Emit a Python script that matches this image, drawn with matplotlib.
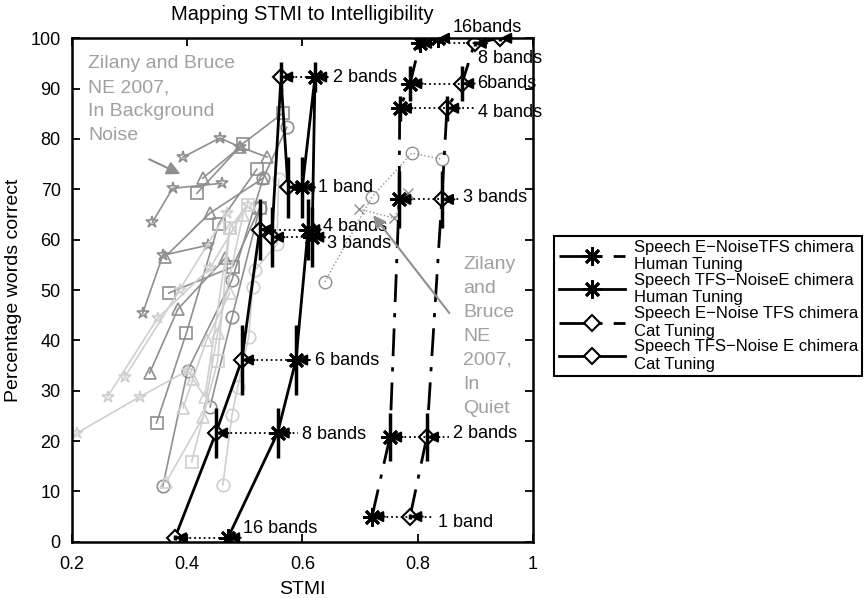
import matplotlib
matplotlib.use("Agg")
import matplotlib.pyplot as plt
import numpy as np

plt.rcParams["font.family"] = ["Liberation Sans", "DejaVu Sans"]

# band conditions, in the order the lines join them
bands = ["1 band", "2 bands", "3 bands", "4 bands", "6 bands", "8 bands", "16 bands"]

# Speech TFS - Noise E chimera (solid lines)
tfs_intel = [70.4, 92.3, 60.5, 62.0, 36.1, 21.6, 0.8]
tfs_human_stmi = [0.600, 0.622, 0.617, 0.610, 0.589, 0.557, 0.471]
tfs_cat_stmi = [0.575, 0.563, 0.547, 0.526, 0.495, 0.450, 0.379]
tfs_err = [6, 3, 6, 6, 7, 5, 0.5]
tfs_label_x = [0.627, 0.653, 0.643, 0.636, 0.622, 0.599, 0.497]
tfs_label_y = [70.4, 92.3, 59.2, 62.6, 36.1, 21.4, 2.6]

# Speech E - Noise TFS chimera (dash-dot lines)
env_intel = [5.0, 20.8, 68.0, 86.1, 91.0, 99.0, 100.0]
env_human_stmi = [0.721, 0.752, 0.768, 0.769, 0.787, 0.804, 0.835]
env_cat_stmi = [0.787, 0.816, 0.842, 0.851, 0.877, 0.899, 0.943]
env_err = [0.5, 4.7, 5.6, 2.5, 3.5, 0.5, 0.5]
env_labels = ["1 band", "2 bands", "3 bands", "4 bands", "6bands", "8 bands", "16bands"]
env_label_x = [0.835, 0.861, 0.879, 0.905, 0.903, 0.905, 0.861]
env_label_y = [3.8, 21.6, 68.3, 85.3, 91.1, 96.0, 102.2]

# Zilany and Bruce NE 2007, in background noise (dark grey)
bn_star1_x = [0.340, 0.375, 0.460]
bn_star1_y = [63.5, 70.2, 71.2]
bn_star2_x = [0.393, 0.457, 0.492]
bn_star2_y = [76.4, 80.2, 78.4]
bn_star3_x = [0.323, 0.358, 0.436]
bn_star3_y = [45.4, 56.9, 58.9]
bn_tri1_x = [0.427, 0.492, 0.539]
bn_tri1_y = [72.2, 78.4, 76.4]
bn_tri2_x = [0.361, 0.440, 0.532]
bn_tri2_y = [56.5, 65.3, 72.2]
bn_tri3_x = [0.335, 0.384, 0.466]
bn_tri3_y = [33.5, 46.2, 56.3]
bn_sq1_x = [0.417, 0.497, 0.566]
bn_sq1_y = [69.2, 79.1, 85.1]
bn_sq2_x = [0.347, 0.399, 0.455, 0.521]
bn_sq2_y = [23.6, 41.5, 63.2, 74.0]
bn_sq3_x = [0.368, 0.479, 0.526]
bn_sq3_y = [49.4, 54.6, 66.3]
bn_circ1_x = [0.358, 0.401, 0.478, 0.532, 0.573]
bn_circ1_y = [11.1, 34.0, 52.0, 72.2, 82.3]
bn_circ2_x = [0.440, 0.478, 0.526]
bn_circ2_y = [26.8, 44.6, 66.3]
bn_circ3_x = [0.639, 0.721, 0.790, 0.842]
bn_circ3_y = [51.6, 68.5, 77.2, 76.0]
bn_cross_x = [0.698, 0.759, 0.783]
bn_cross_y = [66.1, 64.3, 69.2]

# Zilany and Bruce NE 2007, in quiet (light grey)
q_star1_x = [0.209, 0.318, 0.401]
q_star1_y = [21.6, 28.8, 34.0]
q_star2_x = [0.262, 0.349, 0.440, 0.505]
q_star2_y = [28.8, 44.4, 54.4, 66.9]
q_star3_x = [0.292, 0.387, 0.469]
q_star3_y = [32.7, 50.0, 65.3]
q_tri1_x = [0.364, 0.428, 0.453, 0.497]
q_tri1_y = [11.9, 24.8, 41.5, 64.9]
q_tri2_x = [0.393, 0.434, 0.474]
q_tri2_y = [26.6, 40.1, 49.4]
q_tri3_x = [0.410, 0.431, 0.474]
q_tri3_y = [32.3, 28.8, 62.3]
q_sq_x = [0.408, 0.453, 0.474, 0.505]
q_sq_y = [15.9, 35.9, 62.3, 66.9]
q_circ_x = [0.462, 0.478, 0.488, 0.507, 0.514, 0.518, 0.556, 0.559]
q_circ_y = [11.3, 25.2, 30.8, 40.7, 50.6, 54.0, 59.1, 72.0]

dark = "#8f8f8f"
light = "#cfcfcf"
asterisk = (8, 2, 0)
dashdot = (0, (10, 4, 1.5, 4))

fig = plt.figure(figsize=(8.65, 5.98), dpi=100)
ax = fig.add_axes([0.083, 0.094, 0.533, 0.842])

# grey background series
bn_series = [
    (bn_star1_x, bn_star1_y, "*"), (bn_star2_x, bn_star2_y, "*"), (bn_star3_x, bn_star3_y, "*"),
    (bn_tri1_x, bn_tri1_y, "^"), (bn_tri2_x, bn_tri2_y, "^"), (bn_tri3_x, bn_tri3_y, "^"),
    (bn_sq1_x, bn_sq1_y, "s"), (bn_sq2_x, bn_sq2_y, "s"), (bn_sq3_x, bn_sq3_y, "s"),
    (bn_circ1_x, bn_circ1_y, "o"), (bn_circ2_x, bn_circ2_y, "o"),
]
for xs, ys, m in bn_series:
    ax.plot(xs, ys, "-", color=dark, lw=1.2, marker=m, ms=9, mfc="none", mec=dark, mew=1.2)
ax.plot(bn_circ3_x, bn_circ3_y, ":", color=dark, lw=1, marker="o", ms=9, mfc="none", mec=dark)
ax.plot(bn_cross_x, bn_cross_y, ":", color=dark, lw=1, marker="x", ms=7, mec=dark)

q_series = [
    (q_star1_x, q_star1_y, "*"), (q_star2_x, q_star2_y, "*"), (q_star3_x, q_star3_y, "*"),
    (q_tri1_x, q_tri1_y, "^"), (q_tri2_x, q_tri2_y, "^"), (q_tri3_x, q_tri3_y, "^"),
    (q_sq_x, q_sq_y, "s"), (q_circ_x, q_circ_y, "o"),
]
for xs, ys, m in q_series:
    ax.plot(xs, ys, "-", color=light, lw=1.2, marker=m, ms=9, mfc="none", mec=light, mew=1.2)

# main chimera lines
l1, = ax.plot(env_human_stmi, env_intel, linestyle=dashdot, color="k", lw=2,
              marker=asterisk, ms=13, mew=2)
l2, = ax.plot(tfs_human_stmi, tfs_intel, "-", color="k", lw=2,
              marker=asterisk, ms=13, mew=2)
l3, = ax.plot(env_cat_stmi, env_intel, linestyle=dashdot, color="k", lw=2,
              marker="D", ms=8, mfc="white", mew=1.5)
l4, = ax.plot(tfs_cat_stmi, tfs_intel, "-", color="k", lw=2,
              marker="D", ms=8, mfc="white", mew=1.5)

# error bars
tfs_intel_a = np.array(tfs_intel)
env_intel_a = np.array(env_intel)
ax.vlines(tfs_human_stmi, tfs_intel_a - tfs_err, tfs_intel_a + tfs_err, color="k", lw=2.5)
ax.vlines(tfs_cat_stmi, tfs_intel_a - tfs_err, tfs_intel_a + tfs_err, color="k", lw=2.5)
ax.vlines(env_human_stmi, env_intel_a - env_err, env_intel_a + env_err, color="k", lw=2.5)
ax.vlines(env_cat_stmi, env_intel_a - env_err, env_intel_a + env_err, color="k", lw=2.5)

# dotted pointers from band labels to the points
for xa, xb, y, lx, ly, lab in zip(tfs_cat_stmi, tfs_human_stmi, tfs_intel,
                                  tfs_label_x, tfs_label_y, bands):
    ax.plot([xa, lx - 0.006], [y, y], ":", color="k", lw=1.3)
    for px in (xa, xb):
        ax.annotate("", xy=(px, y), xytext=(px + 0.022, y),
                    arrowprops=dict(arrowstyle="-|>", color="k", lw=1.5,
                                    mutation_scale=16, shrinkA=0, shrinkB=0))
    ax.text(lx, ly, lab, fontsize=13, va="center", ha="left")

for xa, xb, y, lx, ly, lab in zip(env_human_stmi, env_cat_stmi, env_intel,
                                  env_label_x, env_label_y, env_labels):
    ax.plot([xa, lx - 0.006], [y, y], ":", color="k", lw=1.3, clip_on=False)
    for px in (xa, xb):
        ax.annotate("", xy=(px, y), xytext=(px + 0.022, y),
                    arrowprops=dict(arrowstyle="-|>", color="k", lw=1.5,
                                    mutation_scale=16, shrinkA=0, shrinkB=0),
                    annotation_clip=False)
    ax.text(lx, ly, lab, fontsize=13, va="center", ha="left", clip_on=False)

# grey annotations
ax.text(0.228, 96.6, "Zilany and Bruce\nNE 2007,\nIn Background\nNoise", color="#a0a0a0",
        fontsize=14, va="top", ha="left", linespacing=1.52)
ax.annotate("", xy=(0.393, 72.8), xytext=(0.330, 76.2),
            arrowprops=dict(arrowstyle="-|>", color=dark, lw=1.5, mutation_scale=20))
ax.text(0.879, 56.8, "Zilany\nand\nBruce\nNE\n2007,\nIn\nQuiet", color="#a0a0a0",
        fontsize=14, va="top", ha="left", linespacing=1.54)
ax.annotate("", xy=(0.720, 65.3), xytext=(0.858, 45.0),
            arrowprops=dict(arrowstyle="-|>", color=dark, lw=1.5, mutation_scale=18))

ax.set_xlim(0.2, 1)
ax.set_ylim(0, 100)
ax.set_xticks([0.2, 0.4, 0.6, 0.8, 1.0])
ax.set_xticklabels(["0.2", "0.4", "0.6", "0.8", "1"])
ax.set_yticks(np.arange(0, 101, 10))
ax.tick_params(direction="in", top=True, right=True, length=6, width=1.3, labelsize=13)
ax.tick_params(axis="x", pad=10)
ax.tick_params(axis="y", pad=8)
for s in ax.spines.values():
    s.set_linewidth(1.8)
ax.set_xlabel("STMI", fontsize=14, labelpad=6)
ax.set_ylabel("Percentage words correct", fontsize=14, labelpad=6)
ax.set_title("Mapping STMI to Intelligibility", fontsize=14.5, pad=13)

leg = fig.legend([l1, l2, l3, l4],
                 ["Speech E\u2212NoiseTFS chimera\nHuman Tuning",
                  "Speech TFS\u2212NoiseE chimera\nHuman Tuning",
                  "Speech E\u2212Noise TFS chimera\nCat Tuning",
                  "Speech TFS\u2212Noise E chimera\nCat Tuning"],
                 loc="upper left", bbox_to_anchor=(0.641, 0.606), fontsize=12,
                 numpoints=1, handlelength=4.0, fancybox=False, framealpha=1,
                 edgecolor="k", borderpad=0.25, labelspacing=0.05, handletextpad=0.5,
                 borderaxespad=0)
leg.get_frame().set_linewidth(1.5)

fig.savefig("out.png", dpi=100)
